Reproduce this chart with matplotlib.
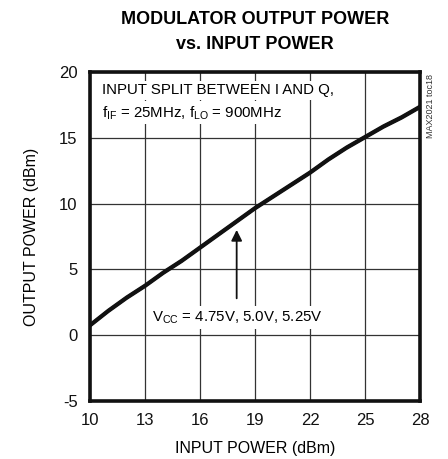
import numpy as np
import matplotlib
matplotlib.use('Agg')
from matplotlib import pyplot as plt

# input power (dBm) and output power (dBm) for the three supply voltages
pin = [10, 11, 12, 13, 14, 15, 16, 17, 18, 19, 20, 21, 22, 23, 24, 25, 26, 27, 28]
pout_475 = [0.7, 1.8, 2.8, 3.7, 4.7, 5.6, 6.6, 7.6, 8.6, 9.6, 10.5, 11.4, 12.3, 13.3, 14.2, 15.0, 15.8, 16.5, 17.3]
pout_500 = [0.75, 1.85, 2.85, 3.75, 4.75, 5.65, 6.65, 7.65, 8.65, 9.65, 10.55, 11.45, 12.35, 13.35, 14.25, 15.05, 15.85, 16.55, 17.35]
pout_525 = [0.8, 1.9, 2.9, 3.8, 4.8, 5.7, 6.7, 7.7, 8.7, 9.7, 10.6, 11.5, 12.4, 13.4, 14.3, 15.1, 15.9, 16.6, 17.4]
xticks = [10, 13, 16, 19, 22, 25, 28]
yticks = [-5, 0, 5, 10, 15, 20]

plt.rcParams['font.family'] = ['Liberation Sans', 'DejaVu Sans']

fig = plt.figure(figsize=(4.48, 4.59), dpi=100)
ax = fig.add_axes([0.2009, 0.1264, 0.7366, 0.7168])

for y in (pout_475, pout_500, pout_525):
    ax.plot(pin, y, color='#111111', lw=2.3, solid_capstyle='butt')

ax.set_xlim(10, 28)
ax.set_ylim(-5, 20)
ax.set_xticks(xticks)
ax.set_yticks(yticks)
ax.set_yticklabels(['-5', '0', '5', '10', '15', '20'])
ax.grid(True, color='#333333', lw=0.9)
ax.tick_params(length=0, labelsize=12, pad=9, colors='#111111')
for s in ax.spines.values():
    s.set_linewidth(2.6)
    s.set_color('#111111')

ax.set_xlabel('INPUT POWER (dBm)', fontsize=11.5, labelpad=9)
ax.set_ylabel('OUTPUT POWER (dBm)', fontsize=11.5, labelpad=14)

fig.text(0.569, 0.958, 'MODULATOR OUTPUT POWER', ha='center', va='center',
         fontsize=13, fontweight='bold')
fig.text(0.569, 0.903, 'vs. INPUT POWER', ha='center', va='center',
         fontsize=13, fontweight='bold')

t = ax.text(10.65, 18.6, 'INPUT SPLIT BETWEEN I AND Q,', fontsize=10.8, va='center')
t.set_bbox(dict(facecolor='white', edgecolor='none', pad=2))
t = ax.text(10.65, 16.9, r'f$_{\mathregular{IF}}$ = 25MHz, f$_{\mathregular{LO}}$ = 900MHz',
            fontsize=10.8, va='center')
t.set_bbox(dict(facecolor='white', edgecolor='none', pad=2))

ax.annotate('', xy=(18.0, 8.0), xytext=(18.0, 2.8),
            arrowprops=dict(arrowstyle='-|>', color='#111111', lw=1.3,
                            mutation_scale=16, shrinkA=0, shrinkB=0))
t = ax.text(13.4, 1.35, r'V$_{\mathregular{CC}}$ = 4.75V, 5.0V, 5.25V', fontsize=10.8, va='center')
t.set_bbox(dict(facecolor='white', edgecolor='none', pad=2))

fig.text(0.962, 0.77, 'MAX2021 toc18', rotation=90, ha='center', va='center',
         fontsize=6.5, color='#333333')

fig.savefig('out.png', dpi=100)
